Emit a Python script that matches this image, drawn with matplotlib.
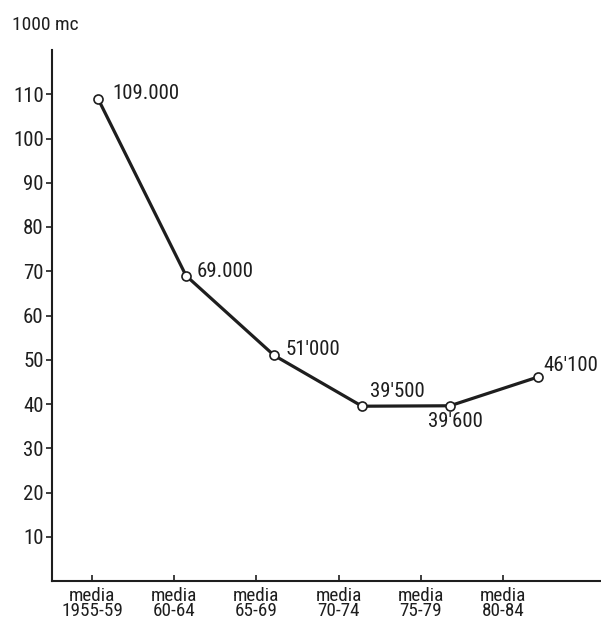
import matplotlib.pyplot as plt
from matplotlib import font_manager

# data (thousand m3)
periods = ["media\n1955-59", "media\n60-64", "media\n65-69",
           "media\n70-74", "media\n75-79", "media\n80-84"]
values = [109.0, 69.0, 51.0, 39.5, 39.6, 46.1]
labels = ["109.000", "69.000", "51'000", "39'500", "39'600", "46'100"]
yticks = [10, 20, 30, 40, 50, 60, 70, 80, 90, 100, 110]

# offsets of the value labels from their points (pixels)
offsets = [(14, 5), (11, 4), (12, 6), (8, 15), (-22, -16), (5, 12)]

names = {f.name for f in font_manager.fontManager.ttflist}
fam = "DejaVu Sans"
for cand in ["Liberation Sans Narrow", "Roboto Condensed", "Roboto", "Liberation Sans"]:
    if cand in names:
        fam = cand
        break
plt.rcParams["font.family"] = [fam, "DejaVu Sans"]

ink = "#1e1e1e"
fig = plt.figure(figsize=(6.01, 6.25), dpi=100)
ax = fig.add_axes([52 / 601, 1 - 581 / 625, 549 / 601, 531 / 625])

x = list(range(len(values)))
ax.plot(x, values, color=ink, lw=2.3, marker="o", ms=6.5,
        mfc="white", mec=ink, mew=1.2, zorder=3)

for xi, v, lab, (dx, dy) in zip(x, values, labels, offsets):
    ax.annotate(lab, (xi, v), xytext=(dx, dy), textcoords="offset pixels",
                ha="left", va="center", fontsize=15, color=ink)

ax.set_xlim(-0.523, 5.716)
ax.set_ylim(0, 120)

# hand-drawn ticks sit a bit left of the points
ax.set_xticks([-0.068 + i * 0.934 for i in x])
ax.set_xticklabels(periods, fontsize=13.8, color=ink, linespacing=0.85)
ax.set_yticks(yticks)
ax.set_yticklabels([str(t) for t in yticks], fontsize=15, color=ink)

ax.tick_params(axis="y", direction="out", length=4, width=1.2, pad=2, colors=ink)
ax.tick_params(axis="x", direction="in", length=4, width=1.2, pad=4, colors=ink)

for s in ["top", "right"]:
    ax.spines[s].set_visible(False)
for s in ["left", "bottom"]:
    ax.spines[s].set_linewidth(1.5)
    ax.spines[s].set_color(ink)

fig.text(12 / 601, 1 - 25 / 625, "1000 mc", fontsize=14, color=ink,
         ha="left", va="center")

plt.savefig("out.png", dpi=100)
plt.close()
